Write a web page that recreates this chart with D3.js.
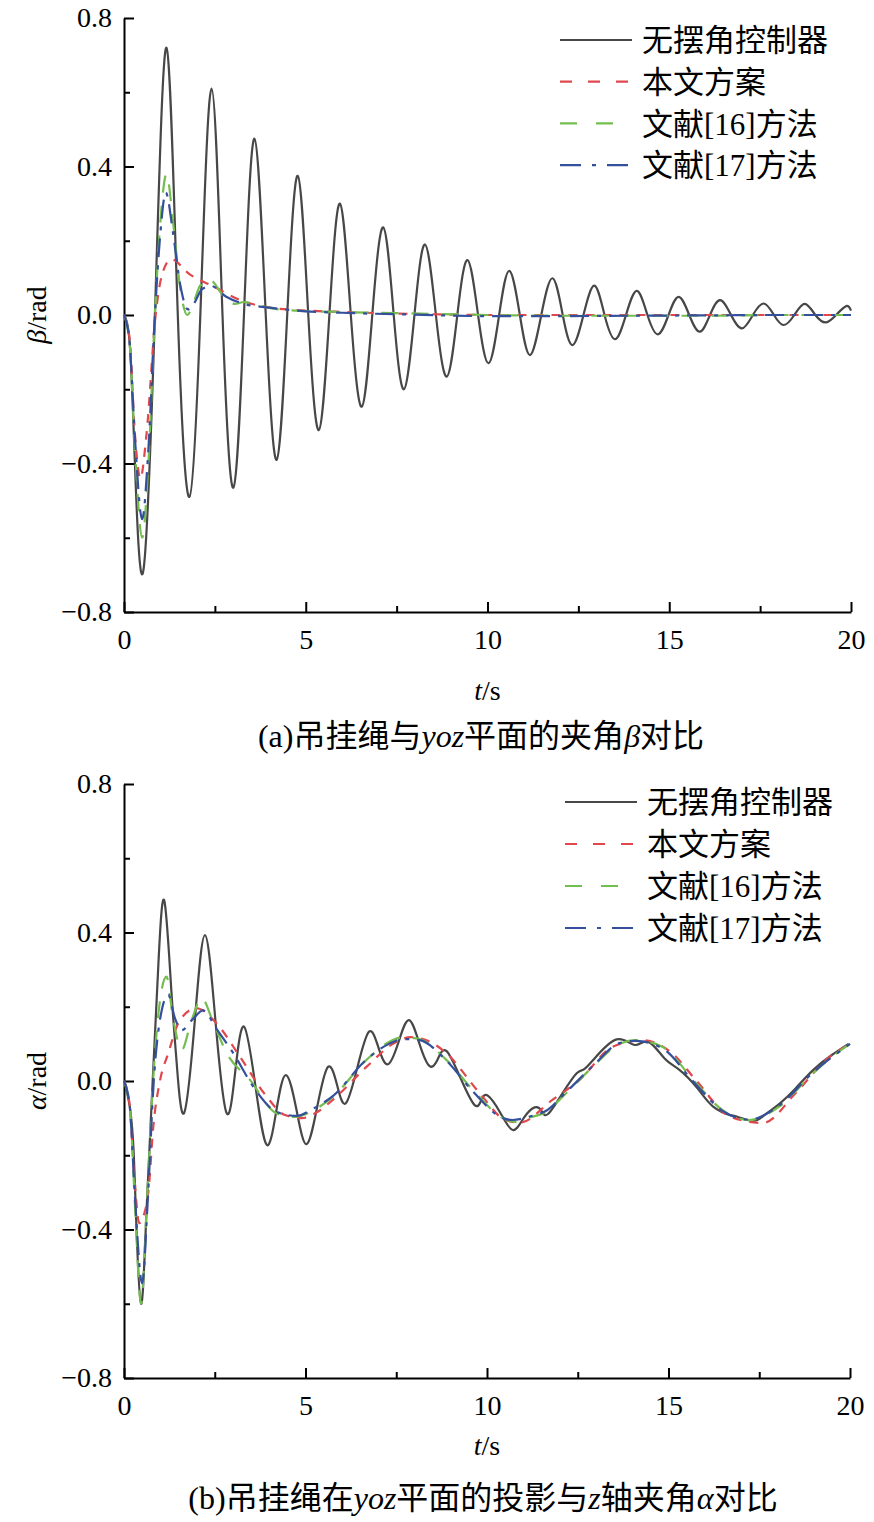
<!DOCTYPE html>
<html><head><meta charset="utf-8">
<script src="https://cdn.jsdelivr.net/npm/d3@7"></script>
<style>
body{margin:0;background:#fff;}
svg{display:block;}
text{font-family:"Liberation Serif","Noto Sans CJK SC",serif;fill:#000;}
</style></head>
<body>
<svg id="chart" width="874" height="1522"></svg>
<script>
// ---------------- data (t in s, value in rad) ----------------
const xMajorTicks = [0, 5, 10, 15, 20];
const xMinorTicks = [2.5, 7.5, 12.5, 17.5];
const yMajorTicks = [-0.8, -0.4, 0, 0.4, 0.8];
const yMinorTicks = [-0.6, -0.2, 0.2, 0.6];
const seriesNames = ["无摆角控制器", "本文方案", "文献[16]方法", "文献[17]方法"];

// (a) beta
const betaNone = [[0,0],[0.16,-0.08],[0.3,-0.4],[0.53,-0.69],[0.85,0],[1.17,0.72],[1.48,0],[1.80,-0.49],[2.10,0],[2.41,0.61],[2.71,0],[3.01,-0.465],[3.30,0],[3.59,0.475],[3.90,0],[4.20,-0.39],[4.49,0],[4.78,0.375],[5.07,0],[5.36,-0.31],[5.65,0],[5.94,0.30],[6.24,0],[6.54,-0.247],[6.83,0],[7.13,0.236],[7.42,0],[7.70,-0.20],[7.99,0],[8.28,0.19],[8.58,0],[8.88,-0.166],[9.17,0],[9.45,0.148],[9.74,0],[10.03,-0.13],[10.32,0],[10.6,0.119],[10.89,0],[11.17,-0.108],[11.48,0],[11.79,0.099],[12.07,0],[12.34,-0.081],[12.64,0],[12.94,0.079],[13.22,0],[13.51,-0.065],[13.81,0],[14.11,0.065],[14.40,0],[14.69,-0.052],[14.98,0],[15.26,0.049],[15.55,0],[15.84,-0.045],[16.12,0],[16.40,0.04],[16.70,0],[17.0,-0.036],[17.30,0],[17.60,0.031],[17.88,0],[18.15,-0.027],[18.44,0],[18.73,0.03],[19.02,0],[19.31,-0.02],[19.59,0],[19.87,0.024],[20,0.012]];
const betaOurs = [[0,0],[0.15,-0.06],[0.3,-0.32],[0.45,-0.44],[0.62,-0.32],[0.87,0],[1.05,0.11],[1.3,0.15],[1.8,0.11],[2.5,0.075],[3.2,0.04],[4,0.02],[5,0.012],[6,0.008],[8,0.003],[10,0],[12,0],[14,0],[16,0],[18,0],[20,0]];
const betaRef16 = [[0,0],[0.15,-0.07],[0.3,-0.36],[0.5,-0.60],[0.66,-0.42],[0.85,0],[1.0,0.25],[1.17,0.38],[1.35,0.25],[1.55,0.07],[1.74,0.0],[1.92,0.035],[2.1,0.08],[2.35,0.095],[2.75,0.05],[3.05,0.03],[3.3,0.035],[3.7,0.025],[4.5,0.013],[6,0.008],[8,0.004],[10,0],[12,-0.002],[14,-0.002],[16,-0.002],[18,0],[20,0]];
const betaRef17 = [[0,0],[0.15,-0.07],[0.3,-0.33],[0.5,-0.55],[0.66,-0.38],[0.85,0],[1.0,0.22],[1.15,0.33],[1.35,0.22],[1.55,0.08],[1.76,0.015],[1.92,0.03],[2.15,0.07],[2.4,0.078],[2.8,0.05],[3.3,0.03],[4,0.02],[5,0.01],[6,0.006],[8,0.001],[10,-0.003],[12,-0.003],[14,-0.002],[16,-0.001],[18,0],[20,0]];

// (b) alpha
const alphaNone = [[0,0],[0.16,-0.07],[0.26,-0.18],[0.33,-0.36],[0.47,-0.60],[0.62,-0.35],[0.79,0],[0.95,0.32],[1.11,0.486],[1.3,0.25],[1.45,0.05],[1.65,-0.087],[1.94,0.15],[2.23,0.393],[2.53,0.15],[2.83,-0.087],[3.07,0.03],[3.31,0.146],[3.62,-0.013],[3.93,-0.172],[4.2,-0.078],[4.46,0.016],[4.75,-0.077],[5.03,-0.17],[5.33,-0.066],[5.62,0.038],[5.87,-0.011],[6.11,-0.06],[6.43,0.037],[6.75,0.133],[7.01,0.09],[7.27,0.045],[7.56,0.104],[7.85,0.164],[8.14,0.10],[8.42,0.04],[8.65,0.06],[8.88,0.081],[9.27,0.008],[9.66,-0.065],[9.85,-0.05],[10.03,-0.04],[10.37,-0.086],[10.71,-0.132],[11.01,-0.10],[11.31,-0.071],[11.5,-0.08],[11.68,-0.089],[12.1,-0.03],[12.47,0.021],[12.65,0.03],[12.93,0.057],[13.57,0.112],[14.07,0.097],[14.44,0.106],[14.9,0.06],[15.3,0.03],[15.8,-0.02],[16.23,-0.069],[16.7,-0.092],[16.85,-0.095],[17.29,-0.107],[17.6,-0.095],[18.07,-0.06],[18.5,-0.02],[18.99,0.03],[19.5,0.07],[19.96,0.10]];
const alphaOurs = [[0,0],[0.15,-0.06],[0.28,-0.25],[0.42,-0.383],[0.55,-0.36],[0.67,-0.30],[0.81,-0.12],[0.99,0],[1.22,0.075],[1.54,0.164],[2.0,0.196],[2.55,0.155],[3.19,0.066],[3.93,-0.042],[4.4,-0.09],[4.9,-0.10],[5.3,-0.085],[5.76,-0.05],[6.68,0.038],[7.41,0.10],[7.9,0.118],[8.42,0.106],[8.88,0.075],[9.8,-0.033],[10.5,-0.105],[10.9,-0.112],[11.8,-0.051],[12.55,0.003],[13.46,0.092],[14.28,0.11],[15.1,0.075],[15.75,0.003],[16.7,-0.096],[17.6,-0.113],[18.5,-0.033],[19.34,0.057],[20,0.10]];
const alphaRef16 = [[0,0],[0.16,-0.07],[0.3,-0.33],[0.47,-0.60],[0.62,-0.35],[0.8,0],[0.97,0.2],[1.17,0.281],[1.35,0.17],[1.59,0.084],[1.85,0.16],[2.14,0.223],[2.45,0.16],[2.83,0.075],[3.47,0.003],[4.2,-0.087],[4.7,-0.097],[5.2,-0.08],[5.76,-0.042],[6.68,0.057],[7.3,0.105],[7.7,0.118],[8.14,0.113],[8.88,0.057],[9.61,-0.024],[10.44,-0.10],[10.75,-0.11],[11.1,-0.1],[11.63,-0.083],[12.18,-0.033],[12.91,0.038],[13.65,0.10],[14.1,0.11],[14.83,0.092],[15.76,-0.006],[16.48,-0.078],[17.22,-0.105],[18.05,-0.069],[18.97,0.02],[19.5,0.065],[20,0.10]];
const alphaRef17 = [[0,0],[0.16,-0.07],[0.3,-0.31],[0.5,-0.545],[0.65,-0.33],[0.82,0],[1.0,0.17],[1.22,0.232],[1.4,0.17],[1.59,0.137],[1.88,0.165],[2.18,0.19],[2.55,0.14],[3.01,0.075],[3.56,-0.015],[4.2,-0.083],[4.75,-0.094],[5.2,-0.075],[5.76,-0.04],[6.68,0.058],[7.3,0.1],[7.7,0.113],[8.14,0.11],[8.88,0.055],[9.61,-0.028],[10.44,-0.1],[10.7,-0.105],[11.2,-0.095],[11.63,-0.08],[12.18,-0.03],[12.91,0.04],[13.65,0.102],[14.1,0.108],[14.83,0.088],[15.76,-0.01],[16.48,-0.08],[17.22,-0.104],[18.05,-0.066],[18.97,0.022],[20,0.10]];

// ---------------- drawing ----------------
const svg = d3.select("#chart");
const styles = [
  {color:"#474747", dash:null, width:2.2, curve:d3.curveNatural},
  {color:"#e0484d", dash:"9,8", width:2.2, curve:d3.curveMonotoneX},
  {color:"#74bd4f", dash:"17,13", width:2.2, curve:d3.curveMonotoneX},
  {color:"#34509c", dash:"19,8,4,8", width:2.2, curve:d3.curveMonotoneX}
];
const legendDash = [null, "12,16", "17,19", "21,11,4,11"];

function panel(cfg){
  const g = svg.append("g");
  const x = d3.scaleLinear().domain([0,20]).range([cfg.x0, cfg.x1]);
  const y = d3.scaleLinear().domain([-0.8,0.8]).range([cfg.y1, cfg.y0]);
  const fmt = d => d3.format(".1f")(d);

  // minor ticks
  g.append("g").attr("transform",`translate(0,${cfg.y1})`)
    .call(d3.axisBottom(x).tickValues(xMinorTicks).tickSizeInner(-6).tickSizeOuter(0).tickFormat(""))
    .call(a=>a.select(".domain").remove())
    .call(a=>a.selectAll("line").attr("stroke","#000").attr("stroke-width",2));
  g.append("g").attr("transform",`translate(${cfg.x0},0)`)
    .call(d3.axisLeft(y).tickValues(yMinorTicks).tickSizeInner(-6).tickSizeOuter(0).tickFormat(""))
    .call(a=>a.select(".domain").remove())
    .call(a=>a.selectAll("line").attr("stroke","#000").attr("stroke-width",2));

  // major axes
  const xa = g.append("g").attr("transform",`translate(0,${cfg.y1})`)
    .call(d3.axisBottom(x).tickValues(xMajorTicks).tickSizeInner(-10).tickSizeOuter(0).tickPadding(17).tickFormat(d3.format("d")));
  const ya = g.append("g").attr("transform",`translate(${cfg.x0},0)`)
    .call(d3.axisLeft(y).tickValues(yMajorTicks).tickSizeInner(-10).tickSizeOuter(0).tickPadding(12).tickFormat(fmt));
  [xa,ya].forEach(a=>{
    a.select(".domain").attr("stroke","#000").attr("stroke-width",2);
    a.selectAll("line").attr("stroke","#000").attr("stroke-width",2);
    a.selectAll("text").attr("font-size",28).attr("font-family","Liberation Serif");
  });
  xa.selectAll("text").attr("dy","0.71em");

  // lines
  cfg.series.forEach((s,i)=>{
    const st = styles[i];
    const line = d3.line().x(d=>x(d[0])).y(d=>y(d[1])).curve(st.curve);
    g.append("path").datum(s).attr("d",line).attr("fill","none")
      .attr("stroke",st.color).attr("stroke-width",st.width)
      .attr("stroke-dasharray",st.dash).attr("stroke-linejoin","round");
  });

  // legend
  const lg = g.append("g");
  seriesNames.forEach((name,i)=>{
    const yy = cfg.legY + i*cfg.legDy;
    const st = styles[i];
    lg.append("line").attr("x1",cfg.legX).attr("x2",cfg.legX+72).attr("y1",yy).attr("y2",yy)
      .attr("stroke",st.color).attr("stroke-width",2.2).attr("stroke-dasharray",legendDash[i]);
    lg.append("text").attr("x",cfg.legX+82).attr("y",yy).attr("dy","0.36em")
      .attr("font-size",31).text(name);
  });

  // axis labels
  const yl = g.append("text").attr("transform",`translate(${cfg.yLabX},${y(0)}) rotate(-90)`)
    .attr("text-anchor","middle").attr("dy","0.35em").attr("font-size",28);
  yl.append("tspan").attr("font-style","italic").text(cfg.yVar);
  yl.append("tspan").text("/rad");

  const xl = g.append("text").attr("x",x(10)).attr("y",cfg.tLabY).attr("text-anchor","middle").attr("font-size",28);
  xl.append("tspan").attr("font-style","italic").text("t");
  xl.append("tspan").text("/s");

  const cap = g.append("text").attr("x",cfg.capX).attr("y",cfg.capY).attr("text-anchor","middle").attr("font-size",32);
  cfg.caption.forEach(p=>{
    const t = cap.append("tspan").text(p[0]);
    if(p[1]) t.attr("font-style","italic");
  });
}

panel({x0:124,x1:851,y0:18,y1:612,series:[betaNone,betaOurs,betaRef16,betaRef17],
  legX:560,legY:40,legDy:41.7,yVar:"β",yLabX:36,tLabY:700,capX:481,capY:747,
  caption:[["(a)吊挂绳与"],["yoz",1],["平面的夹角"],["β",1],["对比"]]});
panel({x0:124,x1:850,y0:784,y1:1378,series:[alphaNone,alphaOurs,alphaRef16,alphaRef17],
  legX:565,legY:802,legDy:42,yVar:"α",yLabX:36,tLabY:1455,capX:483,capY:1509,
  caption:[["(b)吊挂绳在"],["yoz",1],["平面的投影与"],["z",1],["轴夹角"],["α",1],["对比"]]});
</script>
</body></html>
